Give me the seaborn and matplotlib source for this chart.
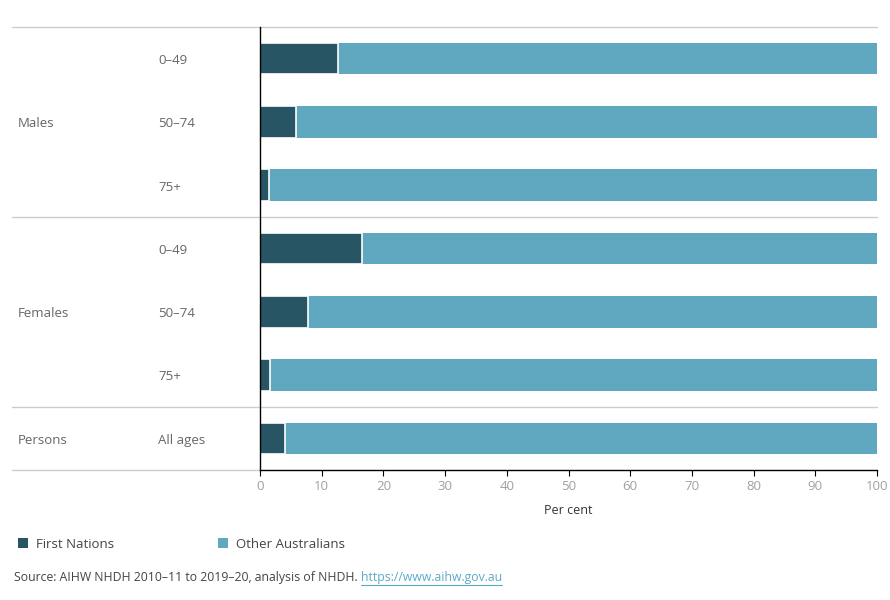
import matplotlib
matplotlib.use("Agg")
import matplotlib.pyplot as plt
import matplotlib.transforms as mtransforms
from matplotlib.patches import Patch
import seaborn as sns
import pandas as pd

# ---- data ----
groups = ["Males", "Males", "Males", "Females", "Females", "Females", "Persons"]
ages = ["0–49", "50–74", "75+", "0–49", "50–74", "75+", "All ages"]
first_nations = [12.6, 5.8, 1.5, 16.5, 7.8, 1.6, 4.1]
other_australians = [87.4, 94.2, 98.5, 83.5, 92.2, 98.4, 95.9]
x_ticks = [0, 10, 20, 30, 40, 50, 60, 70, 80, 90, 100]
series_names = ["First Nations", "Other Australians"]

DARK = "#285563"
LIGHT = "#60a8c0"
GREY_LINE = "#cccccc"
LABEL = "#666666"

sns.set_theme(style="white")
plt.rcParams["font.family"] = ["Open Sans", "DejaVu Sans"]

rows = [f"{g}|{a}" for g, a in zip(groups, ages)]
df = pd.DataFrame({
    "row": rows,
    "fn": first_nations,
    "other": other_australians,
})
df["total"] = df["fn"] + df["other"]

fig = plt.figure(figsize=(8.9, 6.0), dpi=100)
ax = fig.add_axes([260 / 890, 1 - 470 / 600, (877 - 260) / 890, (470 - 27) / 600])

sns.barplot(data=df, x="total", y="row", order=rows, orient="h", color=LIGHT,
            saturation=1, width=0.5, ax=ax, linewidth=0)
sns.barplot(data=df, x="fn", y="row", order=rows, orient="h", color=DARK,
            saturation=1, width=0.5, ax=ax, edgecolor="white", linewidth=1.2)

ax.set_xlim(0, 100)
ax.set_ylim(6.5, -0.5)
ax.set_xticks(x_ticks)
ax.set_xticklabels([str(t) for t in x_ticks], color="#a0a0a0", fontsize=9.5)
ax.tick_params(axis="x", length=4, width=0.8, color="black", pad=3, bottom=True)
ax.set_yticks([])
ax.set_ylabel("")
ax.set_xlabel("Per cent", fontsize=9, color="#333333", labelpad=8)

for s in ["top", "right"]:
    ax.spines[s].set_visible(False)
ax.spines["left"].set_color("black")
ax.spines["left"].set_linewidth(1)
ax.spines["bottom"].set_color("black")
ax.spines["bottom"].set_linewidth(1)

blend = mtransforms.blended_transform_factory(fig.transFigure, ax.transData)
x0 = 12 / 890
x_axis = 260 / 890
x_end = 877 / 890
# separators
for yb in [-0.5, 2.5, 5.5]:
    ax.plot([x0, x_end], [yb, yb], transform=blend, color=GREY_LINE, lw=1, clip_on=False, zorder=0.5)
ax.plot([x0, x_axis], [6.5, 6.5], transform=blend, color=GREY_LINE, lw=1, clip_on=False, zorder=0.5)

# row labels
dy = 0.03
for i, a in enumerate(ages):
    ax.text(158 / 890, i + dy, a, transform=blend, ha="left", va="center", fontsize=9.5, color=LABEL)
group_pos = {"Males": 1, "Females": 4, "Persons": 6}
for g, p in group_pos.items():
    ax.text(18 / 890, p + dy, g, transform=blend, ha="left", va="center", fontsize=9.5, color=LABEL)

# legend
handles = [Patch(facecolor=DARK, edgecolor="none"), Patch(facecolor=LIGHT, edgecolor="none")]
fig.legend(handles, series_names, loc="center left", bbox_to_anchor=(14 / 890, 1 - 544 / 600),
           ncol=2, frameon=False, handlelength=0.75, handleheight=0.75, handletextpad=0.6,
           columnspacing=7.9, fontsize=9.5, labelcolor="#444444", borderaxespad=0, borderpad=0.3)

# source
src = fig.text(14 / 890, 1 - 577 / 600, "Source: AIHW NHDH 2010–11 to 2019–20, analysis of NHDH. ",
               ha="left", va="center", fontsize=8.8, color="#444444")
fig.canvas.draw()
bb = src.get_window_extent()
link = fig.text(bb.x1 / fig.bbox.width, 1 - 577 / 600, "https://www.aihw.gov.au",
                ha="left", va="center", fontsize=8.8, color="#5aaac8")
fig.canvas.draw()
lb = link.get_window_extent()
fig.add_artist(plt.Line2D([lb.x0 / fig.bbox.width, lb.x1 / fig.bbox.width],
                          [(lb.y0 - 1) / fig.bbox.height] * 2, color="#5aaac8", lw=0.8))

fig.savefig("out.png", dpi=100)
